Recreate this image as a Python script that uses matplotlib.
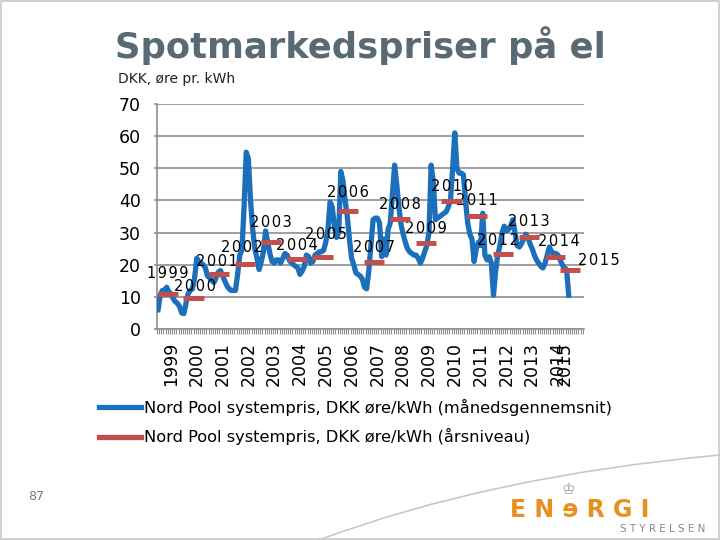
import matplotlib
matplotlib.use("Agg")
import matplotlib.pyplot as plt
from matplotlib.lines import Line2D
from matplotlib.patches import Rectangle, PathPatch
from matplotlib.path import Path

# monthly Nord Pool system price, DKK øre/kWh, Jan 1999 - Dec 2014
monthly = [
    6, 10.5, 12, 12, 13, 11.5, 11, 9.5, 8.5, 8, 7, 5,                 # 1999
    4.8, 8, 11, 12, 12.5, 16, 22, 21, 20.5, 20, 19, 16.5,             # 2000
    16, 15, 14.5, 16, 17.7, 18.2, 16.5, 15, 13.5, 12.5, 12, 12,       # 2001
    12, 17, 23, 24.5, 38, 55, 53, 40, 31, 25, 22, 18.5,               # 2002
    21, 24, 30.5, 27, 23.5, 21, 20.5, 21.5, 21.5, 20.5, 22, 23.5,     # 2003
    23, 21.5, 20.5, 20, 19.5, 19, 17, 18, 19.5, 23, 22.5, 20.5,       # 2004
    21, 23, 23.5, 24, 24, 24.5, 27, 31, 39.5, 38, 32, 28.5,           # 2005
    30, 49, 46, 40, 35, 28, 22, 20, 17.5, 17, 16.5, 15.5,             # 2006
    13, 12.5, 18, 26, 34, 34.5, 34.5, 33, 22.5, 28, 23, 31,           # 2007
    33, 42, 51, 45, 38, 32.5, 29.5, 27, 25, 24, 23.5, 23,             # 2008
    23, 22, 20.5, 22, 24, 26, 30, 51, 46, 34, 34.5, 35,               # 2009
    35.5, 36, 36.5, 38, 40, 50, 61, 50, 48.5, 48.5, 48, 40,           # 2010
    33, 29.5, 28, 21, 25, 27, 26, 36, 23, 21.5, 22.5, 20.5,           # 2011
    10.5, 18, 23, 26, 30, 32, 30.5, 31, 32, 34, 30, 26,               # 2012
    25.5, 26.5, 28, 29.5, 28.5, 26.5, 25, 23, 21.5, 20.5, 19.5, 19,   # 2013
    20.5, 23, 25.5, 24, 23.5, 23.5, 23, 21.5, 20, 19, 18.5, 10.5,     # 2014
]

years = [str(y) for y in range(1999, 2016)]
annual = [10.8, 9.7, 17.2, 20.3, 27.2, 21.8, 22.3, 36.8, 20.7, 34.2,
          26.7, 39.8, 35.2, 23.2, 28.7, 22.3, 18.3]
# first month (index from Jan 1999) of each annual-level segment
annual_start = [0, 12, 24, 36, 48, 60, 72, 84, 96, 108, 120, 132, 144,
                156, 168, 180, 187]
# month index where each year's axis label sits
year_tick = [6, 18, 30, 42, 54, 66, 78, 90, 102, 114, 126, 138, 150,
             162, 174, 186, 189]

n_cats = 198.6
BLUE = "#1c6fbb"
RED = "#c0504d"
GRID = "#8f8f8f"

fig = plt.figure(figsize=(7.2, 5.4), dpi=100)
fig.patch.set_facecolor("white")

# slide frame and decorative curve (figure pixels -> fractions)
fig.patches.append(Rectangle((0.001, 0.001), 0.997, 0.997, transform=fig.transFigure,
                             fill=False, ec="#c8c8c8", lw=1.2))
curve = [(319, 540), (490, 476), (720, 455)]
curve = [(x / 720, 1 - y / 540) for x, y in curve]
fig.patches.append(PathPatch(Path(curve, [Path.MOVETO, Path.CURVE3, Path.CURVE3]),
                             transform=fig.transFigure, fill=False,
                             ec="#c8c8c8", lw=1.2))

fig.text(0.5, 0.915, "Spotmarkedspriser på el", ha="center", va="center",
         fontsize=25.5, fontweight="bold", color="#5a6a74")
fig.text(0.164, 0.853, "DKK, øre pr. kWh", ha="left", va="center",
         fontsize=10, color="#222222")

ax = fig.add_axes([157 / 720, 1 - 329 / 540, 427 / 720, 225 / 540])
ax.set_xlim(0, n_cats)
ax.set_ylim(0, 70)

ax.plot([i + 0.5 for i in range(len(monthly))], monthly, color=BLUE,
        lw=3.8, solid_joinstyle="round", zorder=3)

label_shift = {"1999": (0, 21), "2000": (1, 11), "2001": (-2, 12),
               "2002": (-3, 16), "2003": (0, 19), "2004": (0, 13),
               "2005": (3, 23), "2006": (0, 18), "2012": (-5, 14),
               "2014": (4, 16), "2015": (29, 10)}
for yr, val, s in zip(years, annual, annual_start):
    ax.plot([s + 0.3, s + 9.7], [val, val], color=RED, lw=3.6,
            solid_capstyle="butt", zorder=4)
    dx, dy = label_shift.get(yr, (0, 15))
    ax.annotate("\u200a".join(yr), xy=(s + 5, val), xytext=(dx, dy),
                textcoords="offset pixels", ha="center", va="center",
                fontsize=10.5, color="black", annotation_clip=False)

ax.set_yticks(range(0, 71, 10))
ax.grid(axis="y", color=GRID, lw=1.2)
ax.set_axisbelow(True)
for side in ("top", "right"):
    ax.spines[side].set_visible(False)
for side in ("left", "bottom"):
    ax.spines[side].set_color(GRID)
    ax.spines[side].set_linewidth(1.2)
ax.tick_params(axis="y", length=2.5, width=1.2, color=GRID, pad=9,
               labelsize=12.5)

ax.set_xticks([t + 0.5 for t in year_tick])
ax.set_xticklabels(years, rotation=90, fontsize=12.5)
ax.set_xticks(range(0, 199), minor=True)
ax.tick_params(axis="x", which="major", length=0, pad=9)
ax.tick_params(axis="x", which="minor", length=3.5, width=0.8, color=GRID)

handles = [Line2D([], [], color=BLUE, lw=3.8),
           Line2D([], [], color=RED, lw=3.8)]
fig.legend(handles,
           ["Nord Pool systempris, DKK øre/kWh (månedsgennemsnit)",
            "Nord Pool systempris, DKK øre/kWh (årsniveau)"],
           loc="upper left", bbox_to_anchor=(0.128, 0.273), frameon=False,
           fontsize=11.7, handlelength=2.6, handletextpad=0.2, labelspacing=0.75,
           borderaxespad=0)

fig.text(0.05, 0.08, "87", fontsize=9, color="#777777", ha="center", va="center")
fig.text(0.79, 0.093, "♔", fontsize=11, color="#999999", ha="center", va="center")
fig.text(0.709, 0.055, "E N \u0258 R G I", fontsize=17, fontweight="bold",
         color="#e8901f", ha="left", va="center")
fig.text(0.98, 0.02, "S T Y R E L S E N", fontsize=7.5, color="#888888",
         ha="right", va="center")

fig.savefig("out.png", dpi=100)
